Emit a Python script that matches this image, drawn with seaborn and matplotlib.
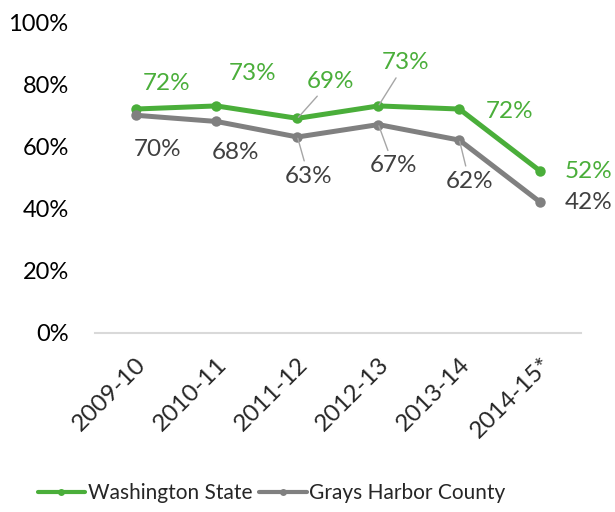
import numpy as np
import pandas as pd
import matplotlib.pyplot as plt
import seaborn as sns

# data
years = ["2009-10", "2010-11", "2011-12", "2012-13", "2013-14", "2014-15*"]
washington = [72, 73, 69, 73, 72, 52]
grays_harbor = [70, 68, 63, 67, 62, 42]

GREEN = "#4aae3a"
GREY = "#808080"
GREY_TXT = "#404040"

sns.set_style("white")
plt.rcParams["font.family"] = ["Lato", "DejaVu Sans"]

df = pd.DataFrame({
    "year": years * 2,
    "value": washington + grays_harbor,
    "series": ["Washington State"] * 6 + ["Grays Harbor County"] * 6,
})

fig = plt.figure(figsize=(6.15, 5.12), dpi=100)
ax = fig.add_axes([0.1545, 0.350, 0.790, 0.607])

sns.lineplot(data=df, x="year", y="value", hue="series", sort=False,
             palette={"Washington State": GREEN, "Grays Harbor County": GREY},
             hue_order=["Washington State", "Grays Harbor County"],
             marker="o", markersize=7.5, markeredgewidth=0, linewidth=3.6, ax=ax)

# label offsets (pixels), leader flag
g_off = [(31, 26, False), (36, 32, False), (33, 37, True), (27, 43, True), (50, -2, False), (48, 0, False)]
k_off = [(22, -34, False), (19, -31, False), (11, -39, True), (15, -41, True), (10, -41, True), (48, 0, False)]

for vals, offs, col in [(washington, g_off, GREEN), (grays_harbor, k_off, GREY_TXT)]:
    for i, (v, (dx, dy, lead)) in enumerate(zip(vals, offs)):
        kw = {}
        if lead:
            kw["arrowprops"] = dict(arrowstyle="-", color="#a6a6a6", lw=1, shrinkA=1, shrinkB=1)
        ax.annotate(f"{v}%", (i, v), xytext=(dx, dy), textcoords="offset pixels",
                    ha="center", va="center", fontsize=17.5, color=col, **kw)

ax.set_ylim(0, 100)
ax.set_xlim(-0.5, 5.5)
ax.set_yticks(range(0, 101, 20))
ax.set_yticklabels([f"{t}%" for t in range(0, 101, 20)], fontsize=17, color="black")
ax.set_xticks(range(len(years)))
ax.set_xticklabels(years, rotation=45, ha="right", rotation_mode="anchor", fontsize=17.5)
ax.tick_params(axis="y", length=0, pad=19)
ax.tick_params(axis="x", length=0, pad=15)
ax.set_xlabel("")
ax.set_ylabel("")
for s in ["top", "right", "left"]:
    ax.spines[s].set_visible(False)
ax.spines["bottom"].set_color("#d9d9d9")
ax.spines["bottom"].set_linewidth(1.5)

ax.legend_.remove()
h, l = ax.get_legend_handles_labels()
for hd in h:
    hd.set_markersize(5)
    hd.set_linewidth(3)
fig.legend(h, l, loc="center", bbox_to_anchor=(0.4415, 0.037), ncol=2, frameon=False,
           fontsize=15, handlelength=2.3, handletextpad=0.1, columnspacing=0.35)

fig.savefig("out.png", dpi=100)
